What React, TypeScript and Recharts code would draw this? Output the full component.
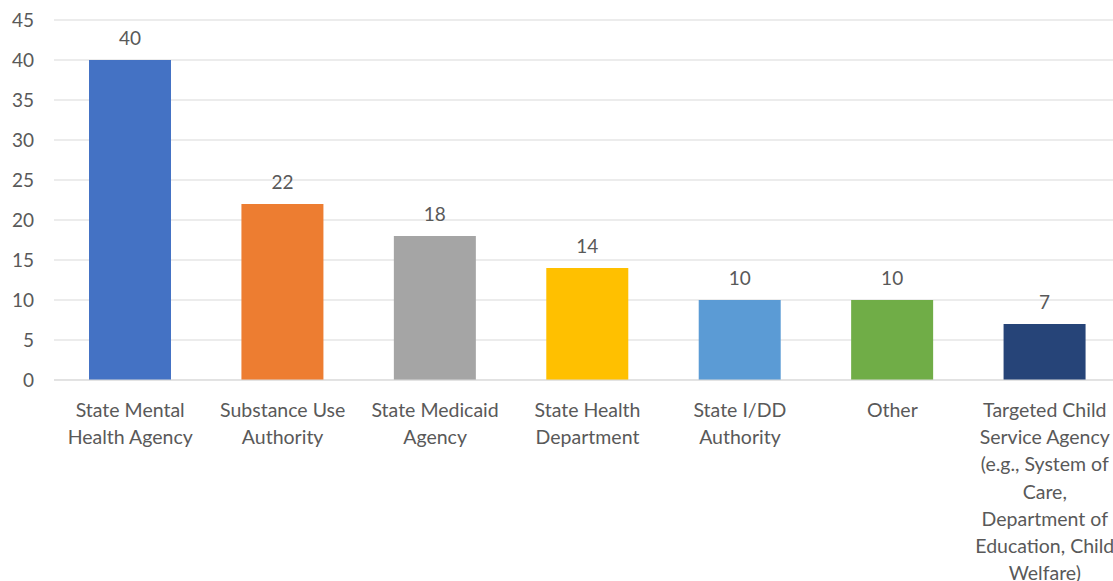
import React from "react"
import { BarChart, Bar, XAxis, YAxis, CartesianGrid, Cell, LabelList } from "recharts"

const categories = [
  "State Mental\nHealth Agency",
  "Substance Use\nAuthority",
  "State Medicaid\nAgency",
  "State Health\nDepartment",
  "State I/DD\nAuthority",
  "Other",
  "Targeted Child\nService Agency\n(e.g., System of\nCare,\nDepartment of\nEducation, Child\nWelfare)",
]
const counts = [40, 22, 18, 14, 10, 10, 7]
const barColors = ["#4472C4", "#ED7D31", "#A5A5A5", "#FFC000", "#5B9BD5", "#70AD47", "#264478"]
const yTicks = [0, 5, 10, 15, 20, 25, 30, 35, 40, 45]

const data = categories.map((name, i) => ({ name, value: counts[i] }))

const FONT = "Lato, 'Open Sans', sans-serif"
const TEXT = "#595959"

function CategoryTick(props: any) {
  const { x, y, payload } = props
  const lines = String(payload.value).split("\n")
  return (
    <text x={x} y={y} textAnchor="middle" fill={TEXT} fontSize={19.5} fontFamily={FONT}>
      {lines.map((line, i) => (
        <tspan key={i} x={x} dy={i === 0 ? 29 : 27.2}>
          {line}
        </tspan>
      ))}
    </text>
  )
}

export default function App() {
  return (
    <div
      style={{
        position: "absolute",
        left: 0,
        top: 0,
        width: 1113,
        height: 581,
        overflow: "hidden",
        background: "#fff",
      }}
    >
      <BarChart
        width={1121}
        height={581}
        data={data}
        margin={{ top: 20, right: 0, bottom: 0, left: 0 }}
        barCategoryGap={35}
      >
        <CartesianGrid vertical={false} stroke="#d9d9d9" />
        <XAxis
          dataKey="name"
          axisLine={{ stroke: "#d9d9d9" }}
          tickLine={false}
          interval={0}
          height={201}
          tick={<CategoryTick />}
        />
        <YAxis
          domain={[0, 45]}
          ticks={yTicks}
          width={54}
          axisLine={false}
          tickLine={false}
          tickSize={0}
          tickMargin={20}
          tick={{ fill: TEXT, fontSize: 19, fontFamily: FONT }}
        />
        <Bar dataKey="value" isAnimationActive={false}>
          {data.map((d, i) => (
            <Cell key={d.name} fill={barColors[i]} />
          ))}
          <LabelList
            dataKey="value"
            position="top"
            offset={15}
            fill={TEXT}
            fontSize={19}
            fontFamily={FONT}
          />
        </Bar>
      </BarChart>
    </div>
  )
}
